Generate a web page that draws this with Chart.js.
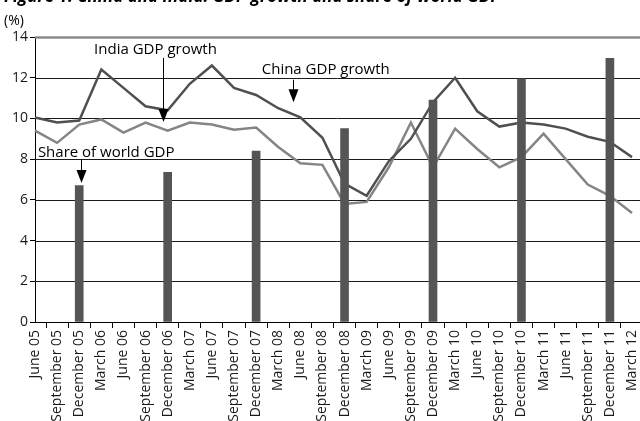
<!DOCTYPE html>
<html>
<head>
<meta charset="utf-8">
<script src="https://cdn.jsdelivr.net/npm/chart.js@4"></script>
<style>
  body { margin: 0; background: #fff; }
  canvas { display: block; }
</style>
</head>
<body>
<canvas id="myChart" width="640" height="421"></canvas>
<script>
// quarters shown on the x axis
const quarters = [
  'June 05', 'September 05', 'December 05', 'March 06', 'June 06', 'September 06', 'December 06',
  'March 07', 'June 07', 'September 07', 'December 07', 'March 08', 'June 08', 'September 08',
  'December 08', 'March 09', 'June 09', 'September 09', 'December 09', 'March 10', 'June 10',
  'September 10', 'December 10', 'March 11', 'June 11', 'September 11', 'December 11', 'March 12'
];

// GDP growth, % y/y
const chinaGrowth = [10.05, 9.8, 9.9, 12.4, 11.5, 10.6, 10.4, 11.7, 12.6, 11.5, 11.15, 10.5, 10.05, 9.05,
  6.8, 6.2, 7.9, 9.0, 10.8, 12.0, 10.35, 9.6, 9.8, 9.7, 9.5, 9.1, 8.85, 8.1];
const indiaGrowth = [9.4, 8.8, 9.7, 9.95, 9.3, 9.8, 9.4, 9.8, 9.7, 9.45, 9.55, 8.6, 7.8, 7.72,
  5.8, 5.9, 7.6, 9.8, 7.6, 9.5, 8.5, 7.6, 8.1, 9.25, 8.0, 6.75, 6.2, 5.35];

// share of world GDP, only for December quarters
const worldShare = [null, null, 6.7, null, null, null, 7.35, null, null, null, 8.4, null, null, null,
  9.5, null, null, null, 10.9, null, null, null, 11.95, null, null, null, 12.95, null];

const yTicks = [0, 2, 4, 6, 8, 10, 12, 14];

const FONT = '"Open Sans", "Noto Sans", sans-serif';

// callout labels with arrows (x = category index, y = value on the % axis)
const callouts = [
  { text: 'India GDP growth', tx: 5.45, ty: 13.35, ax: 5.8, from: 12.97, to: 9.82 },
  { text: 'China GDP growth', tx: 13.15, ty: 12.38, ax: 11.66, from: 11.9, to: 10.8 },
  { text: 'Share of world GDP', tx: 3.22, ty: 8.3, ax: 2.1, from: 7.96, to: 6.83 }
];

// horizontal rules across the full width, top one grey
const gridPlugin = {
  id: 'fullGrid',
  beforeDatasetsDraw(chart) {
    const ctx = chart.ctx, y = chart.scales.y, area = chart.chartArea;
    ctx.save();
    yTicks.forEach(function(v) {
      if (v === 0) return;
      const py = Math.round(y.getPixelForValue(v)) + 0.5;
      ctx.beginPath();
      ctx.strokeStyle = v === 14 ? '#8a8a8a' : '#1a1a1a';
      ctx.lineWidth = v === 14 ? 2.5 : 1;
      ctx.moveTo(area.left, py);
      ctx.lineTo(chart.width, py);
      ctx.stroke();
    });
    // x axis runs to the edge too
    const by = Math.round(y.getPixelForValue(0)) + 0.5;
    ctx.beginPath();
    ctx.strokeStyle = '#000';
    ctx.lineWidth = 1;
    ctx.moveTo(area.left, by);
    ctx.lineTo(chart.width, by);
    ctx.stroke();
    ctx.restore();
  }
};

const calloutPlugin = {
  id: 'callouts',
  afterDraw(chart) {
    const ctx = chart.ctx, x = chart.scales.x, y = chart.scales.y;
    ctx.save();
    ctx.font = '15px ' + FONT;
    ctx.fillStyle = '#000';
    ctx.strokeStyle = '#000';
    ctx.textAlign = 'center';
    ctx.textBaseline = 'middle';
    callouts.forEach(function(c) {
      ctx.fillText(c.text, x.getPixelForValue(c.tx), y.getPixelForValue(c.ty));
      const px = Math.round(x.getPixelForValue(c.ax)) + 0.5;
      const y0 = y.getPixelForValue(c.from), y1 = y.getPixelForValue(c.to);
      ctx.lineWidth = 1;
      ctx.beginPath();
      ctx.moveTo(px, y0);
      ctx.lineTo(px, y1 - 10);
      ctx.stroke();
      ctx.beginPath();
      ctx.moveTo(px - 5, y1 - 13);
      ctx.lineTo(px + 5, y1 - 13);
      ctx.lineTo(px, y1);
      ctx.closePath();
      ctx.fill();
    });

    // unit label and the (cropped) figure title
    ctx.textAlign = 'left';
    ctx.textBaseline = 'alphabetic';
    ctx.font = '14px ' + FONT;
    ctx.fillText('(%)', 4, 25);
    ctx.font = 'italic bold 17px ' + FONT;
    ctx.fillText('Figure 1: China and India: GDP growth and share of world GDP', 4, 2);
    ctx.restore();
  }
};

const ctx = document.getElementById('myChart').getContext('2d');
const myChart = new Chart(ctx, {
  type: 'bar',
  data: {
    labels: quarters,
    datasets: [
      {
        type: 'bar',
        label: 'Share of world GDP',
        data: worldShare,
        backgroundColor: '#555555',
        barThickness: 8,
        order: 0
      },
      {
        type: 'line',
        label: 'China GDP growth',
        data: chinaGrowth,
        borderColor: '#505050',
        borderWidth: 2.5,
        pointRadius: 0,
        tension: 0,
        order: 1
      },
      {
        type: 'line',
        label: 'India GDP growth',
        data: indiaGrowth,
        borderColor: '#858585',
        borderWidth: 2.5,
        pointRadius: 0,
        tension: 0,
        order: 2
      }
    ]
  },
  options: {
    responsive: false,
    animation: false,
    layout: { padding: { top: 37, right: 8, left: 0, bottom: 0 } },
    plugins: {
      legend: { display: false },
      tooltip: { enabled: false },
      title: { display: false }
    },
    scales: {
      x: {
        offset: false,
        grid: { display: true, drawOnChartArea: false, drawTicks: true, tickLength: 6, color: '#000' },
        border: { display: false },
        ticks: {
          autoSkip: false,
          maxRotation: 90,
          minRotation: 90,
          padding: 2,
          color: '#1a1a1a',
          font: { family: FONT, size: 14 }
        },
        afterFit(scale) {
          // long labels run off the bottom edge
          scale.height = 99;
          scale.paddingLeft = 0;
          scale.paddingRight = 0;
        }
      },
      y: {
        min: 0,
        max: 14,
        afterBuildTicks(scale) {
          scale.ticks = yTicks.map(function(v) { return { value: v }; });
        },
        grid: { display: true, drawOnChartArea: false, drawTicks: true, tickLength: 5, color: '#000' },
        border: { display: true, color: '#000', width: 1 },
        ticks: {
          padding: 2,
          color: '#1a1a1a',
          font: { family: FONT, size: 14 }
        },
        afterFit(scale) {
          scale.width = 35;
          scale.paddingTop = 0;
          scale.paddingBottom = 0;
        }
      }
    }
  },
  plugins: [gridPlugin, calloutPlugin]
});
</script>
</body>
</html>
